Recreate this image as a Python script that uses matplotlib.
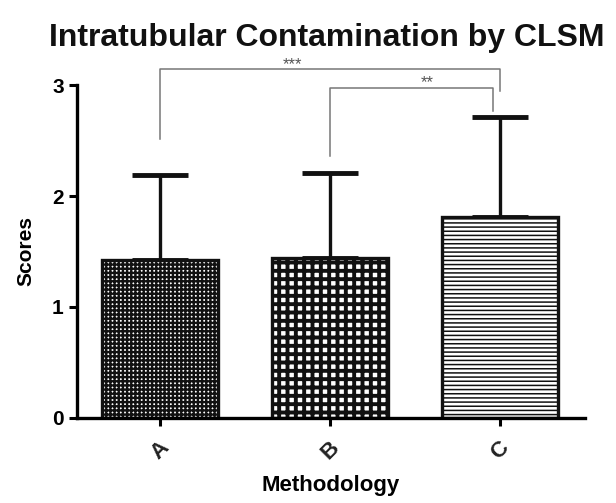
import numpy as np
import matplotlib
matplotlib.use('Agg')
import matplotlib.pyplot as plt

# data
groups = ['A', 'B', 'C']
means = [1.42, 1.44, 1.81]
sds = [0.77, 0.77, 0.90]
hatches = ['++++', '++', '----']
hatch_lw = [1.7, 2.8, 1.1]
hatch_col = ['#333333', '#111111', '#555555']

# significance brackets: (x1, x2, top, left end, right end, label, label x)
brackets = [(0, 2, 3.14, 2.51, 2.95, '***', 0.78),
            (1, 1.96, 2.97, 2.36, 2.77, '**', 1.57)]

plt.rcParams['font.family'] = ['Liberation Sans', 'DejaVu Sans']

fig = plt.figure(figsize=(6.16, 5.03), dpi=100)
ax = fig.add_axes([0.125, 0.169, 0.825, 0.662])

x = np.arange(len(groups))
for i in range(len(groups)):
    plt.rcParams['hatch.linewidth'] = hatch_lw[i]
    plt.rcParams['hatch.color'] = hatch_col[i]
    ax.bar(x[i], means[i], width=0.68, color='white', edgecolor='#111111',
           linewidth=2.4, hatch=hatches[i], zorder=2)
ax.errorbar(x, means, yerr=[np.zeros(len(sds)), sds], fmt='none',
            ecolor='#111111', elinewidth=2.4, capsize=20, capthick=3.5, zorder=1)

for x1, x2, top, y1, y2, lab, lx in brackets:
    ax.plot([x1, x1, x2, x2], [y1, top, top, y2], color='#777777',
            linewidth=1.1, clip_on=False)
    ax.text(lx, top - 0.02, lab, ha='center', va='bottom', fontsize=12,
            color='#555555')

ax.set_xlim(-0.49, 2.5)
ax.set_ylim(0, 3)
ax.set_yticks([0, 1, 2, 3])
ax.set_xticks(x)
ax.set_xticklabels(groups, rotation=45, fontsize=16, ha='center',
                   fontweight='bold', color='#222222')
ax.tick_params(axis='y', labelsize=15, width=2.2, length=6)
ax.tick_params(axis='x', width=2.2, length=6, pad=8)
for t in ax.get_yticklabels():
    t.set_fontweight('bold')
for s in ['top', 'right']:
    ax.spines[s].set_visible(False)
for s in ['left', 'bottom']:
    ax.spines[s].set_linewidth(2.4)

ax.set_ylabel('Scores', fontsize=15, fontweight='bold', labelpad=12)
ax.set_xlabel('Methodology', fontsize=16, fontweight='bold', labelpad=8)
fig.text(0.53, 0.925, 'Intratubular Contamination by CLSM', ha='center',
         va='center', fontsize=23, fontweight='bold', color='#111111')

plt.savefig('out.png', dpi=100)
